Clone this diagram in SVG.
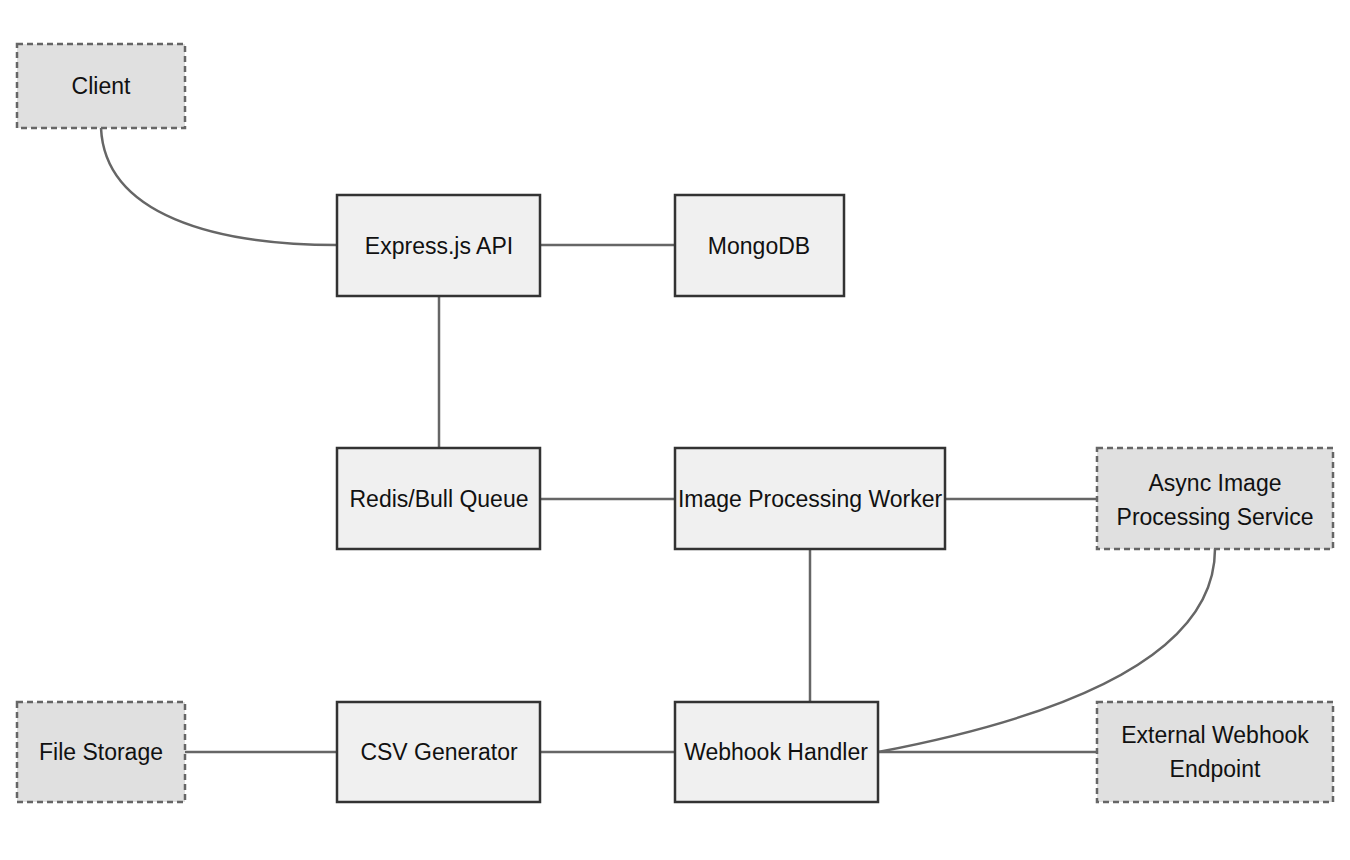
<svg xmlns="http://www.w3.org/2000/svg" width="1350" height="860" viewBox="0 0 1350 860">
<style>
.solid rect{fill:#f0f0f0;stroke:#333;stroke-width:2.5}
.ext rect{fill:#e0e0e0;stroke:#666;stroke-width:2.5;stroke-dasharray:6 4}
text{font-family:"Liberation Sans",Arial,sans-serif;font-size:23px;fill:#111;text-anchor:middle;dominant-baseline:central}
#connectors path,#connectors line{stroke:#666;stroke-width:2.5;fill:none}
</style>
<rect width="1350" height="860" fill="#fff"/>
<g id="connectors">
<path d="M101,128 C105,215 215,245 337,245"/>
<line x1="540" y1="245" x2="675" y2="245"/>
<line x1="439" y1="296" x2="439" y2="448"/>
<line x1="540" y1="499" x2="675" y2="499"/>
<line x1="945" y1="499" x2="1097" y2="499"/>
<line x1="810" y1="549" x2="810" y2="702"/>
<line x1="185" y1="752" x2="337" y2="752"/>
<line x1="540" y1="752" x2="675" y2="752"/>
<line x1="878" y1="752" x2="1097" y2="752"/>
<path d="M1215,549 C1215,670 1020,725 878,752"/>
</g>
<g id="client" class="ext"><rect x="17" y="44" width="168" height="84"/><text x="101" y="86">Client</text></g>
<g id="express" class="solid"><rect x="337" y="195" width="203" height="101"/><text x="439" y="246">Express.js API</text></g>
<g id="mongodb" class="solid"><rect x="675" y="195" width="169" height="101"/><text x="759" y="246">MongoDB</text></g>
<g id="redis" class="solid"><rect x="337" y="448" width="203" height="101"/><text x="439" y="499">Redis/Bull Queue</text></g>
<g id="worker" class="solid"><rect x="675" y="448" width="270" height="101"/><text x="810" y="499">Image Processing Worker</text></g>
<g id="async" class="ext"><rect x="1097" y="448" width="236" height="101"/><text x="1215" y="483">Async Image</text><text x="1215" y="517">Processing Service</text></g>
<g id="filestorage" class="ext"><rect x="17" y="702" width="168" height="100"/><text x="101" y="752">File Storage</text></g>
<g id="csv" class="solid"><rect x="337" y="702" width="203" height="100"/><text x="439" y="752">CSV Generator</text></g>
<g id="webhook" class="solid"><rect x="675" y="702" width="203" height="100"/><text x="776" y="752">Webhook Handler</text></g>
<g id="external" class="ext"><rect x="1097" y="702" width="236" height="100"/><text x="1215" y="735">External Webhook</text><text x="1215" y="769">Endpoint</text></g>
</svg>
